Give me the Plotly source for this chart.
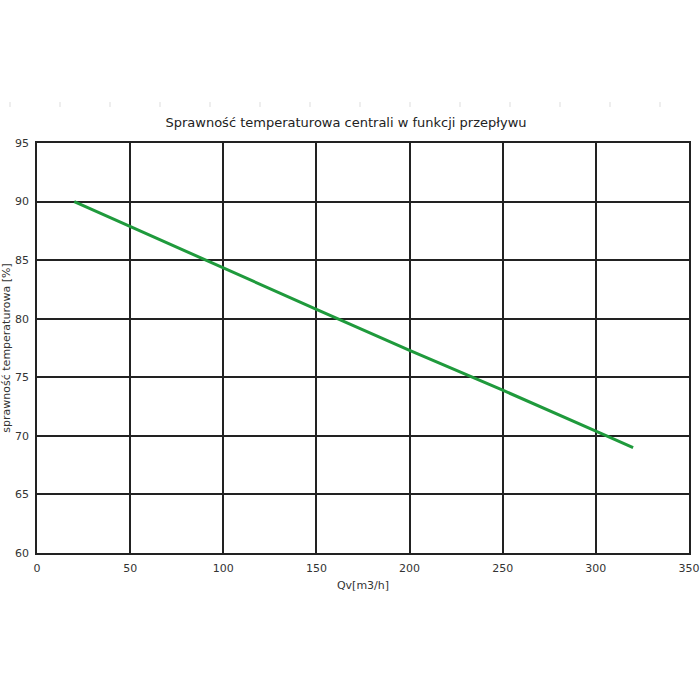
import plotly.graph_objects as go

qv = [20, 100, 150, 200, 250, 300, 320]
eff = [90.0, 84.3, 80.8, 77.3, 73.9, 70.4, 69.0]
x_ticks = [0, 50, 100, 150, 200, 250, 300, 350]
y_ticks = [60, 65, 70, 75, 80, 85, 90, 95]

fig = go.Figure()
fig.add_trace(go.Scatter(x=qv, y=eff, mode="lines",
                         line=dict(color="#1f9a3c", width=3), showlegend=False))

font = "DejaVu Sans, Verdana, sans-serif"
fig.update_layout(
    width=700, height=700,
    margin=dict(l=37, r=11, t=143, b=147),
    paper_bgcolor="white", plot_bgcolor="white",
    title=dict(text="Sprawność temperaturowa centrali w funkcji przepływu",
               x=346 / 700, xanchor="center", y=1 - 122 / 700, yanchor="middle",
               font=dict(family=font, size=13, color="#222")),
    font=dict(family=font, size=11, color="#333"),
)
fig.update_xaxes(range=[0, 350], tickvals=x_ticks, showgrid=True, gridcolor="#222",
                 gridwidth=1.5, showline=True, linecolor="#222", linewidth=1.5,
                 mirror=True, zeroline=False, ticks="", automargin=False,
                 ticklabelstandoff=4,
                 title=dict(text="Qv[m3/h]", standoff=7, font=dict(size=11)))
fig.update_yaxes(range=[60, 95], tickvals=y_ticks, showgrid=True, gridcolor="#222",
                 gridwidth=1.5, showline=True, linecolor="#222", linewidth=1.5,
                 mirror=True, zeroline=False, ticks="", automargin=False,
                 ticklabelstandoff=4,
                 title=dict(text="sprawność temperaturowa [%]", standoff=2, font=dict(size=11)))

# faint decorative tick marks along top
for px in range(10, 700, 50):
    fig.add_shape(type="line", xref="paper", yref="paper",
                  x0=(px - 37) / 652, x1=(px - 37) / 652,
                  y0=(553 - 102) / 410, y1=(553 - 107) / 410,
                  line=dict(color="#ddd", width=1))

fig.write_html("out.html")
